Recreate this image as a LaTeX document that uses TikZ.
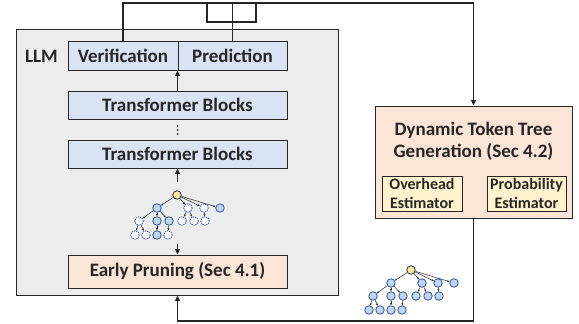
\documentclass[tikz,border=0pt]{standalone}
\usepackage{fontspec}
\setmainfont{Carlito}
\usetikzlibrary{arrows.meta}

\definecolor{cllm}{HTML}{EDEDED}
\definecolor{cblock}{HTML}{DAE3F3}
\definecolor{cpeach}{HTML}{FBE5D6}
\definecolor{cestim}{HTML}{FFF2CC}
\definecolor{ctok}{HTML}{BDD7EE}
\definecolor{ctokline}{HTML}{2F5597}
\definecolor{croot}{HTML}{FFE699}
\definecolor{cwire}{HTML}{262626}

% one token tree, root at (0,0); #1 name prefix, #2 style of the pruned tokens
\newcommand{\tokentree}[2]{%
  \node[tokr] (#1r) at (0,0) {};
  \node[tok] (#1b1) at (-20,13) {};
  \node[#2] (#1b2) at (11,13) {};
  \node[#2] (#1b3) at (27,13) {};
  \node[tok] (#1b4) at (43,13) {};
  \node[#2] (#1c1) at (-38,26) {};
  \node[tok] (#1c2) at (-20,26) {};
  \node[tok] (#1c3) at (-8,26) {};
  \node[#2] (#1c4) at (5,26) {};
  \node[#2] (#1c5) at (17,26) {};
  \node[#2] (#1c6) at (28,26) {};
  \node[#2] (#1d1) at (-42,40) {};
  \node[#2] (#1d2) at (-31,40) {};
  \node[tok] (#1d3) at (-20,40) {};
  \node[#2] (#1d4) at (-9,40) {};
  \path[tedge] (#1r) edge (#1b1) edge (#1b2) edge (#1b3) edge (#1b4);
  \path[tedge] (#1b1) edge (#1c1) edge (#1c2) edge (#1c3);
  \path[tedge] (#1b2) edge (#1c4) edge (#1c5);
  \path[tedge] (#1b3) edge (#1c6);
  \path[tedge] (#1c1) edge (#1d1) edge (#1d2);
  \path[tedge] (#1c2) edge (#1d3);
  \path[tedge] (#1c3) edge (#1d4);
}

\begin{document}
\begin{tikzpicture}[x=1pt,y=-1pt,color=cwire,line width=1.1pt,
   blk/.style={draw=cwire,fill=cblock,line width=0.9pt,inner sep=0,minimum height=28pt,
     font=\fontsize{19}{22}\selectfont\bfseries},
   prune/.style={blk,fill=cpeach,minimum height=33pt},
   estim/.style={draw=cwire,fill=cestim,line width=0.9pt,inner sep=0,minimum height=35pt,
     align=center,font=\fontsize{16}{18.5}\selectfont\bfseries},
   tok/.style={circle,draw=ctokline,fill=ctok,line width=0.8pt,minimum size=8.5pt,inner sep=0},
   tokcut/.style={tok,fill=white,dashed,dash pattern=on 1.2pt off 0.9pt},
   tokr/.style={tok,fill=croot,draw=ctokline!60!black},
   tedge/.style={line width=0.5pt,-{Stealth[length=2.5pt,width=2pt]}},
   arr/.style={-{Triangle[length=5.5pt,width=5pt]}}]
   \useasboundingbox (0,0) rectangle (579,324);

   \node[draw=cwire,fill=cllm,line width=0.9pt,minimum width=322pt,minimum height=266pt] (llm) at (177,162) {};
   \node[font=\fontsize{19}{22}\selectfont\bfseries] (lbl) at (41.5,56) {LLM};

   \node[blk,minimum width=110pt,minimum height=29pt] (ver) at (123,55.5) {Verification};
   \node[blk,minimum width=109pt,minimum height=29pt] (pre) at (232.5,55.5) {Prediction};
   \node[blk,minimum width=219pt] (tf1) at (177.5,105) {Transformer Blocks};
   \node[blk,minimum width=219pt] (tf2) at (177.5,154) {Transformer Blocks};
   \node[prune,minimum width=219pt] (ep) at (177.5,271.5) {Early Pruning (Sec 4.1)};
   % dots between the blocks
   \fill (177.5,126) circle (1pt) (177.5,130) circle (1pt) (177.5,134) circle (1pt);

   \node[draw=cwire,fill=cpeach,line width=0.9pt,minimum width=197pt,minimum height=112pt] (dyn) at (473.5,162) {};
   \node[align=center,font=\fontsize{19}{22}\selectfont\bfseries] (title) at (473.5,141) {Dynamic Token Tree\\Generation (Sec 4.2)};
   \node[estim,minimum width=80pt] (oh) at (422,193.5) {Overhead\\Estimator};
   \node[estim,minimum width=79pt] (pe) at (526.5,193.5) {Probability\\Estimator};

   % token trees
   \begin{scope}[shift={(177,195)}]
     \tokentree{p}{tokcut}
   \end{scope}
   \begin{scope}[shift={(411,270)}]
     \tokentree{g}{tok}
   \end{scope}

   % wires
   \coordinate (top) at (473.5,3);
   \coordinate (ptop) at (232.5,3);
   \coordinate (j1) at (207,3);
   \coordinate (j2) at (256,22);
   \coordinate (bot) at (177.5,321);
   \coordinate (up1) at (177.5,182);
   \coordinate (up0) at (177.5,244);

   \draw[arr] (ver.north) |- (top) -- (dyn.north);
   \draw (pre.north) -- (ptop);
   \draw (j1) |- (j2) -- (j2 |- j1);
   \draw[arr] (tf1.north) -- (tf1.north |- ver.south);
   \draw[arr] (up1) -- (tf2.south);
   \draw[arr] (up0) -- (ep.north);
   \draw[arr] (dyn.south) |- (bot) -- (bot |- llm.south);
\end{tikzpicture}
\end{document}
